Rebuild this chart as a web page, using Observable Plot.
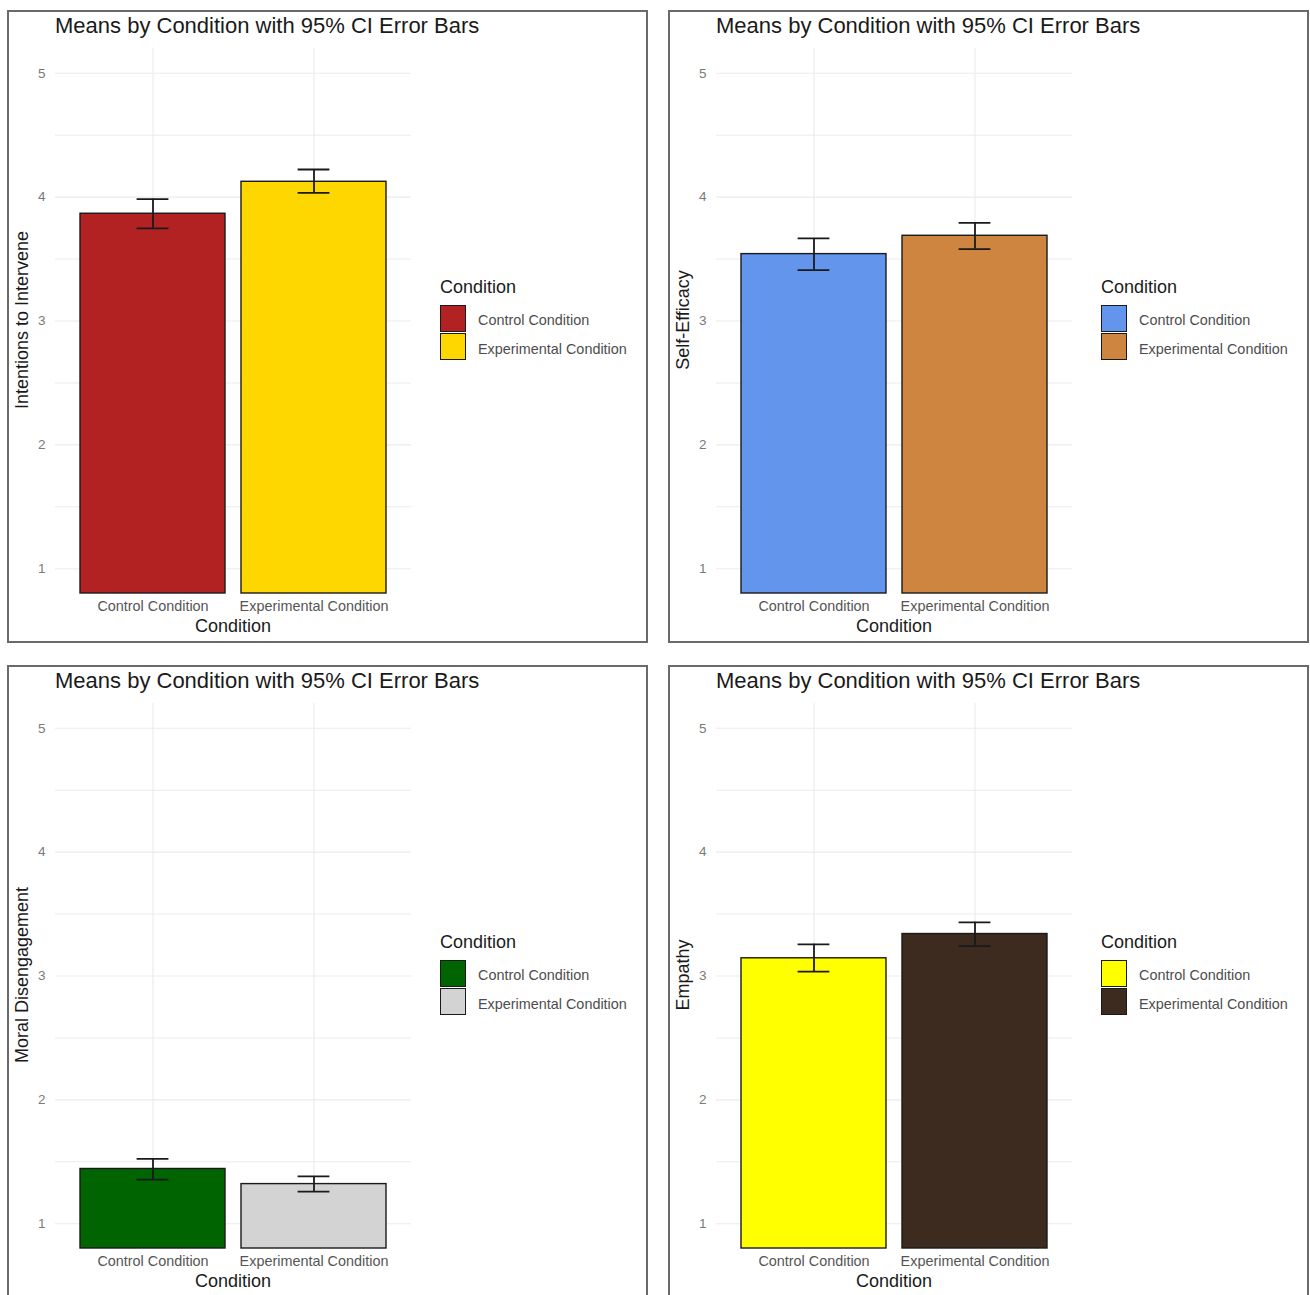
<!DOCTYPE html>
<html>
<head>
<meta charset="utf-8">
<script src="https://cdn.jsdelivr.net/npm/d3@7"></script>
<script src="https://cdn.jsdelivr.net/npm/@observablehq/plot@0.6"></script>
<style>
  html, body { margin: 0; padding: 0; background: #fff; overflow: hidden; }
  body { font-family: "Liberation Sans", Arial, Helvetica, sans-serif; }
  #root { position: relative; width: 1310px; height: 1295px; overflow: hidden; }
  .panel { position: absolute; box-sizing: border-box; width: 641px; height: 633px; border: 2px solid #6a6a6a; background: #fff; }
  .panel svg { position: absolute; left: 0; top: 0; }
  .ptitle { position: absolute; left: 46px; top: 14px; transform: translateY(-50%); font-size: 22px; color: #1a1a1a; white-space: nowrap; }
  .xtitle { position: absolute; left: 224px; top: 614px; transform: translate(-50%, -50%); font-size: 18px; color: #1a1a1a; white-space: nowrap; }
  .ytitle { position: absolute; left: 13px; top: 308px; transform: translate(-50%, -50%) rotate(-90deg); font-size: 18px; color: #1a1a1a; white-space: nowrap; }
  .ltitle { position: absolute; left: 431px; top: 275px; transform: translateY(-50%); font-size: 18px; color: #1a1a1a; white-space: nowrap; }
  .lkey { position: absolute; left: 431px; width: 26px; height: 27px; box-sizing: border-box; border: 1.2px solid #1a1a1a; }
  .llabel { position: absolute; left: 469px; transform: translateY(-50%); font-size: 14.4px; color: #4d4d4d; white-space: nowrap; }
</style>
</head>
<body>
<div id="root"></div>
<script>
// ---- Data ----
const conditions = ["Control Condition", "Experimental Condition"];
const measures = ["Intentions to Intervene", "Self-Efficacy", "Moral Disengagement", "Empathy"];
const meansControl      = [3.866, 3.540, 1.442, 3.143];
const meansExperimental = [4.124, 3.688, 1.320, 3.339];
const ciLowControl       = [3.748, 3.411, 1.356, 3.035];
const ciHighControl      = [3.984, 3.667, 1.523, 3.256];
const ciLowExperimental  = [4.035, 3.581, 1.259, 3.242];
const ciHighExperimental = [4.223, 3.793, 1.382, 3.433];
const colorsControl      = ["#B22222", "#6495ED", "#006400", "#FFFF00"];
const colorsExperimental = ["#FFD700", "#CD853F", "#D3D3D3", "#3D2B1F"];
const yTicks = [1, 2, 3, 4, 5];
const yMinorTicks = [1.5, 2.5, 3.5, 4.5];
const yDomain = [0.8, 5.2];
const titleText = "Means by Condition with 95% CI Error Bars";
const xTitle = "Condition";
const legendTitle = "Condition";

// ---- Layout ----
const panelLefts = [7, 668, 7, 668];
const panelTops = [10, 10, 665, 665];
const root = document.getElementById("root");

measures.forEach((measure, i) => {
  const rows = [
    {cond: conditions[0], mean: meansControl[i], lo: ciLowControl[i], hi: ciHighControl[i]},
    {cond: conditions[1], mean: meansExperimental[i], lo: ciLowExperimental[i], hi: ciHighExperimental[i]}
  ];
  const colors = [colorsControl[i], colorsExperimental[i]];

  const panel = document.createElement("div");
  panel.className = "panel";
  panel.style.left = panelLefts[i] + "px";
  panel.style.top = panelTops[i] + "px";
  root.appendChild(panel);

  const gridStyle = {stroke: "#ebebeb", strokeOpacity: 1, strokeWidth: 1.1};

  const chart = Plot.plot({
    width: 410,
    height: 631,
    marginLeft: 46,
    marginRight: 8,
    marginTop: 36,
    marginBottom: 50,
    style: {fontFamily: "'Liberation Sans', Arial, Helvetica, sans-serif", fontSize: "14.4px", background: "transparent", overflow: "visible"},
    x: {domain: conditions, paddingInner: 0.1, paddingOuter: 0.15, label: null},
    y: {domain: yDomain, label: null},
    color: {domain: conditions, range: colors},
    marks: [
      Plot.gridY(yMinorTicks, gridStyle),
      Plot.gridY(yTicks, gridStyle),
      Plot.gridX(gridStyle),
      Plot.barY(rows, {x: "cond", y1: yDomain[0], y2: "mean", fill: "cond", stroke: "#1a1a1a", strokeWidth: 1.4}),
      Plot.ruleX(rows, {x: "cond", y1: "lo", y2: "hi", stroke: "#1a1a1a", strokeWidth: 1.8}),
      Plot.tickY(rows, {x: "cond", y: "lo", insetLeft: 56.6, insetRight: 56.6, stroke: "#1a1a1a", strokeWidth: 1.8}),
      Plot.tickY(rows, {x: "cond", y: "hi", insetLeft: 56.6, insetRight: 56.6, stroke: "#1a1a1a", strokeWidth: 1.8}),
      Plot.axisY(yTicks, {tickSize: 0, tickPadding: 10, tickFormat: d3.format("d"), color: "#7a7a7a", fontSize: 13.5, label: null}),
      Plot.axisX({tickSize: 0, tickPadding: 7, color: "#555555", fontSize: 14.4, label: null})
    ]
  });
  panel.appendChild(chart);

  const addDiv = (cls, text, top) => {
    const d = document.createElement("div");
    d.className = cls;
    if (text != null) d.textContent = text;
    if (top != null) d.style.top = top + "px";
    panel.appendChild(d);
    return d;
  };
  addDiv("ptitle", titleText);
  addDiv("xtitle", xTitle);
  addDiv("ytitle", measure);
  addDiv("ltitle", legendTitle);
  conditions.forEach((c, j) => {
    const key = addDiv("lkey", null, 293 + j * 28);
    key.style.background = colors[j];
    addDiv("llabel", c, 308 + j * 28.5);
  });
});
</script>
</body>
</html>
